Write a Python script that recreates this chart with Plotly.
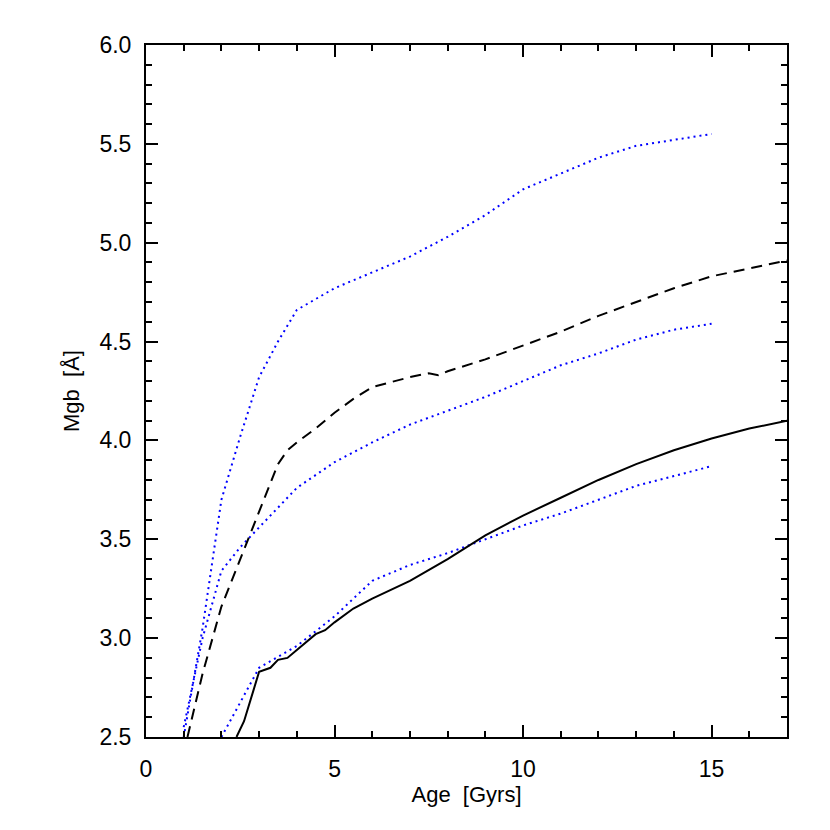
import plotly.graph_objects as go

# Mgb index vs age
age_hi = [1.0, 1.5, 2.0, 2.5, 3.0, 3.5, 4.0, 5.0, 6.0, 7.0, 8.0, 9.0, 10.0, 11.0, 12.0, 13.0, 14.0, 15.0]
mgb_hi = [2.50, 3.05, 3.70, 4.02, 4.32, 4.50, 4.66, 4.77, 4.85, 4.93, 5.03, 5.14, 5.27, 5.35, 5.43, 5.49, 5.52, 5.55]

age_mid = [1.0, 1.5, 2.0, 2.5, 3.0, 4.0, 5.0, 6.0, 7.0, 8.0, 9.0, 10.0, 11.0, 12.0, 13.0, 14.0, 15.0]
mgb_mid = [2.55, 3.00, 3.34, 3.46, 3.56, 3.76, 3.89, 3.99, 4.08, 4.15, 4.22, 4.30, 4.38, 4.44, 4.51, 4.56, 4.59]

age_lo = [2.0, 3.0, 4.0, 5.0, 6.0, 7.0, 8.0, 9.0, 10.0, 11.0, 12.0, 13.0, 14.0, 15.0]
mgb_lo = [2.50, 2.85, 2.96, 3.11, 3.29, 3.37, 3.43, 3.50, 3.57, 3.63, 3.70, 3.77, 3.82, 3.87]

age_solid = [2.4, 2.6, 3.0, 3.3, 3.5, 3.75, 4.0, 4.5, 4.75, 5.0, 5.5, 6.0, 7.0, 8.0, 9.0,
             10.0, 11.0, 12.0, 13.0, 14.0, 15.0, 16.0, 17.0]
mgb_solid = [2.50, 2.58, 2.83, 2.85, 2.89, 2.90, 2.94, 3.02, 3.04, 3.08, 3.15, 3.20, 3.29, 3.40, 3.52,
             3.62, 3.71, 3.80, 3.88, 3.95, 4.01, 4.06, 4.10]

age_dash = [1.1, 1.5, 2.0, 2.5, 3.0, 3.5, 3.75, 4.0, 4.5, 5.0, 5.5, 6.0, 7.0, 7.5, 7.75, 8.0,
            9.0, 10.0, 11.0, 12.0, 13.0, 14.0, 15.0, 16.0, 17.0]
mgb_dash = [2.50, 2.82, 3.16, 3.40, 3.63, 3.88, 3.95, 3.99, 4.06, 4.14, 4.21, 4.27, 4.32, 4.34, 4.33, 4.35,
            4.41, 4.48, 4.55, 4.63, 4.70, 4.77, 4.83, 4.87, 4.91]

FONT = "Liberation Sans"
NB = "\u00a0"
dotted = dict(color="#0000ff", width=2, dash="2px,4px")

fig = go.Figure()
for xs, ys in [(age_hi, mgb_hi), (age_mid, mgb_mid), (age_lo, mgb_lo)]:
    fig.add_trace(go.Scatter(x=xs, y=ys, mode="lines", line=dotted))
fig.add_trace(go.Scatter(x=age_dash, y=mgb_dash, mode="lines",
                         line=dict(color="black", width=2, dash="11px,7px")))
fig.add_trace(go.Scatter(x=age_solid, y=mgb_solid, mode="lines",
                         line=dict(color="black", width=2)))

axis_style = dict(
    showline=True, linecolor="black", linewidth=2, mirror="allticks",
    ticks="inside", ticklen=12, tickwidth=2, tickcolor="black",
    showgrid=False, zeroline=False,
    tickfont=dict(family=FONT, size=23, color="black"),
)

fig.update_xaxes(range=[0, 17], tick0=0, dtick=5, ticklabelstandoff=10,
                 minor=dict(dtick=1, ticks="inside", ticklen=6, tickwidth=2, tickcolor="black"),
                 title=dict(text="Age" + NB * 2 + "[Gyrs]", font=dict(family=FONT, size=22, color="black"),
                            standoff=4),
                 **axis_style)
fig.update_yaxes(range=[2.5, 6.0], tick0=2.5, dtick=0.5, tickformat=".1f", ticklabelstandoff=8,
                 minor=dict(dtick=0.1, ticks="inside", ticklen=6, tickwidth=2, tickcolor="black"),
                 title=dict(text="Mgb" + NB * 2 + "[Å]", font=dict(family=FONT, size=22, color="black"),
                            standoff=14),
                 **axis_style)

# page body adds an 8px offset, so margins are shifted accordingly
fig.update_layout(
    width=830, height=830,
    margin=dict(l=138, r=51, t=37, b=101),
    plot_bgcolor="white", paper_bgcolor="white",
    showlegend=False,
)

fig.write_html("out.html")
